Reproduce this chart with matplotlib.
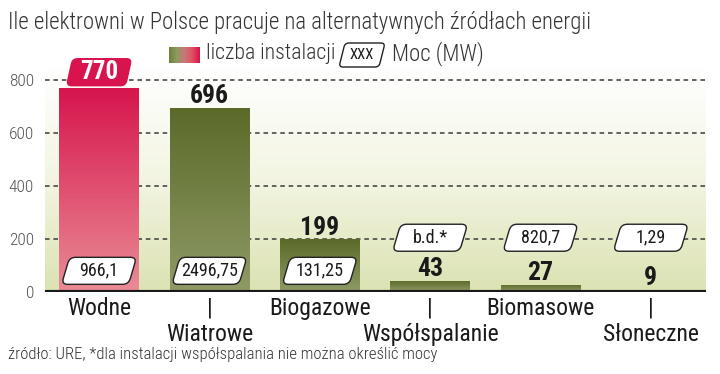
import matplotlib
matplotlib.use("Agg")
import matplotlib.pyplot as plt
import numpy as np
from matplotlib.path import Path
from matplotlib.colors import LinearSegmentedColormap
from matplotlib import font_manager

categories = ["Wodne", "Wiatrowe", "Biogazowe", "Współspalanie", "Biomasowe", "Słoneczne"]
counts = [770, 696, 199, 43, 27, 9]
power = ["966,1", "2496,75", "131,25", "b.d.*", "820,7", "1,29"]
yticks = [0, 200, 400, 600, 800]
title = "Ile elektrowni w Polsce pracuje na alternatywnych źródłach energii"
source = "źródło: URE, *dla instalacji współspalania nie można określić mocy"

names = {f.name for f in font_manager.fontManager.ttflist}
def pick(cands):
    for c in cands:
        if c in names:
            return c
    return "DejaVu Sans"
FONT = pick(["Roboto Condensed", "IBM Plex Sans Condensed", "Open Sans Condensed",
             "Barlow Condensed", "Liberation Sans Narrow"])
plt.rcParams['font.family'] = [FONT, "DejaVu Sans"]


def box_factory(w_px, h_px, slant_px, r_px):
    def style(x0, y0, width, height, mutation_size):
        cx = x0 + width / 2.0
        cy = y0 + height / 2.0
        w = w_px if w_px else width + 14
        h = h_px
        bx0 = cx - w / 2.0
        by0 = cy - h / 2.0
        s = slant_px / 2.0
        pts = [(bx0 + s, by0 + h), (bx0 + w + s, by0 + h),
               (bx0 + w - s, by0), (bx0 - s, by0)]
        verts, codes = [], []
        n = len(pts)
        for i in range(n):
            p0 = np.array(pts[i - 1]); p1 = np.array(pts[i]); p2 = np.array(pts[(i + 1) % n])
            d1 = (p0 - p1) / np.linalg.norm(p0 - p1)
            d2 = (p2 - p1) / np.linalg.norm(p2 - p1)
            a = p1 + d1 * r_px
            b = p1 + d2 * r_px
            verts.append(tuple(a)); codes.append(Path.MOVETO if i == 0 else Path.LINETO)
            verts += [tuple(p1), tuple(b)]; codes += [Path.CURVE3, Path.CURVE3]
        verts.append(verts[0]); codes.append(Path.CLOSEPOLY)
        return Path(verts, codes)
    return style


fig = plt.figure(figsize=(7.2, 3.74), dpi=100)
ax = fig.add_axes([45/720, 82/374, (706-45)/720, 225/374])
XL = (-0.49, 5.5)
YL = (0, 850)

bg = LinearSegmentedColormap.from_list("bg", ["#dbe2b2", "#f3f5e2", "#ffffff"])
grad = np.linspace(0, 1, 256).reshape(-1, 1)
ax.imshow(grad, aspect="auto", cmap=bg, origin="lower",
          extent=[XL[0], XL[1], YL[0], YL[1]], zorder=0)

for y in yticks[1:]:
    ax.axhline(y, color="#3a3a3a", lw=1.1, ls=(0, (3, 2.5)), zorder=1)

red = LinearSegmentedColormap.from_list("red", ["#ea8c95", "#d6154d"])
green = LinearSegmentedColormap.from_list("green", ["#8f9a66", "#5b6a29"])
width = 0.72
x = np.arange(len(categories))
bars = ax.bar(x, counts, width=width, color="none", zorder=2)
for i, b in enumerate(bars):
    cm = red if i == 0 else green
    im = ax.imshow(grad, aspect="auto", cmap=cm, origin="lower",
                   extent=[b.get_x(), b.get_x() + width, 0, counts[i]], zorder=2)
    im.set_clip_path(b)
ax.set_xlim(*XL)
ax.set_ylim(*YL)

# count labels
for i, v in enumerate(counts):
    if i == 0:
        ax.annotate(str(v), (x[i], v), xytext=(0, 11.5), textcoords="offset points",
                    ha="center", va="center", fontsize=18, fontweight="bold",
                    color="white", zorder=5,
                    bbox=dict(boxstyle=box_factory(59, 27, 6, 5), fc="#d9134d",
                              ec="#d9134d", lw=1))
    else:
        ax.annotate(str(v), (x[i], v), xytext=(0, 8.5), textcoords="offset points",
                    ha="center", va="center", fontsize=18.5, fontweight="bold",
                    color="#1a1a1a", zorder=5)

# power boxes
for i, p in enumerate(power):
    y = 80 if counts[i] > 150 else 205
    ax.text(x[i], y, p, ha="center", va="center", fontsize=13, color="#1a1a1a",
            zorder=6,
            bbox=dict(boxstyle=box_factory(67, 27, 8, 6), fc="white", ec="#222222", lw=1.0))

ax.axhline(0, color="#1a1a1a", lw=3, zorder=4)
for s in ax.spines.values():
    s.set_visible(False)
ax.set_yticks(yticks)
ax.set_yticklabels([str(t) for t in yticks], fontsize=12.5, color="#555555",
                   fontweight="light")
ax.tick_params(axis="y", length=0, pad=8)
ax.set_xticks([])

row1 = -62
row2 = -160
for i, c in enumerate(categories):
    if i % 2 == 0:
        ax.text(x[i], row1, c, ha="center", va="center",
                fontsize=17, color="#1a1a1a", clip_on=False)
    else:
        ax.text(x[i], row1, "|", ha="center", va="center",
                fontsize=17, color="#1a1a1a", clip_on=False)
        ax.text(x[i], row2, c, ha="center", va="center",
                fontsize=17, color="#1a1a1a", clip_on=False)

fig.text(8/720, 1 - 22/374, title, fontsize=16.4, color="#333333", va="center", ha="left",
         fontweight="light")
fig.text(8/720, 1 - 354/374, source, fontsize=12, color="#333333", va="center", ha="left",
         fontweight="light")

# legend
lg = fig.add_axes([169/720, 1 - 63/374, 31/720, 16/374])
lg.imshow(np.linspace(0, 1, 64).reshape(1, -1), aspect="auto",
          cmap=LinearSegmentedColormap.from_list(
              "lg", ["#6f7f3c", "#8f9a5e", "#c7787a", "#e05262", "#d9134d"]))
lg.axis("off")
fig.text(206/720, 1 - 54/374, "liczba instalacji", fontsize=15.7, color="#333333",
         va="center", ha="left", fontweight="light")
fig.text(362/720, 1 - 55/374, "XXX", fontsize=10.5, color="#1a1a1a", va="center", ha="center",
         bbox=dict(boxstyle=box_factory(40, 24, 6, 4), fc="white", ec="#222222", lw=1.0))
fig.text(392/720, 1 - 54/374, "Moc (MW)", fontsize=16.5, color="#333333",
         va="center", ha="left", fontweight="light")

fig.savefig("out.png", dpi=100, facecolor="white")
